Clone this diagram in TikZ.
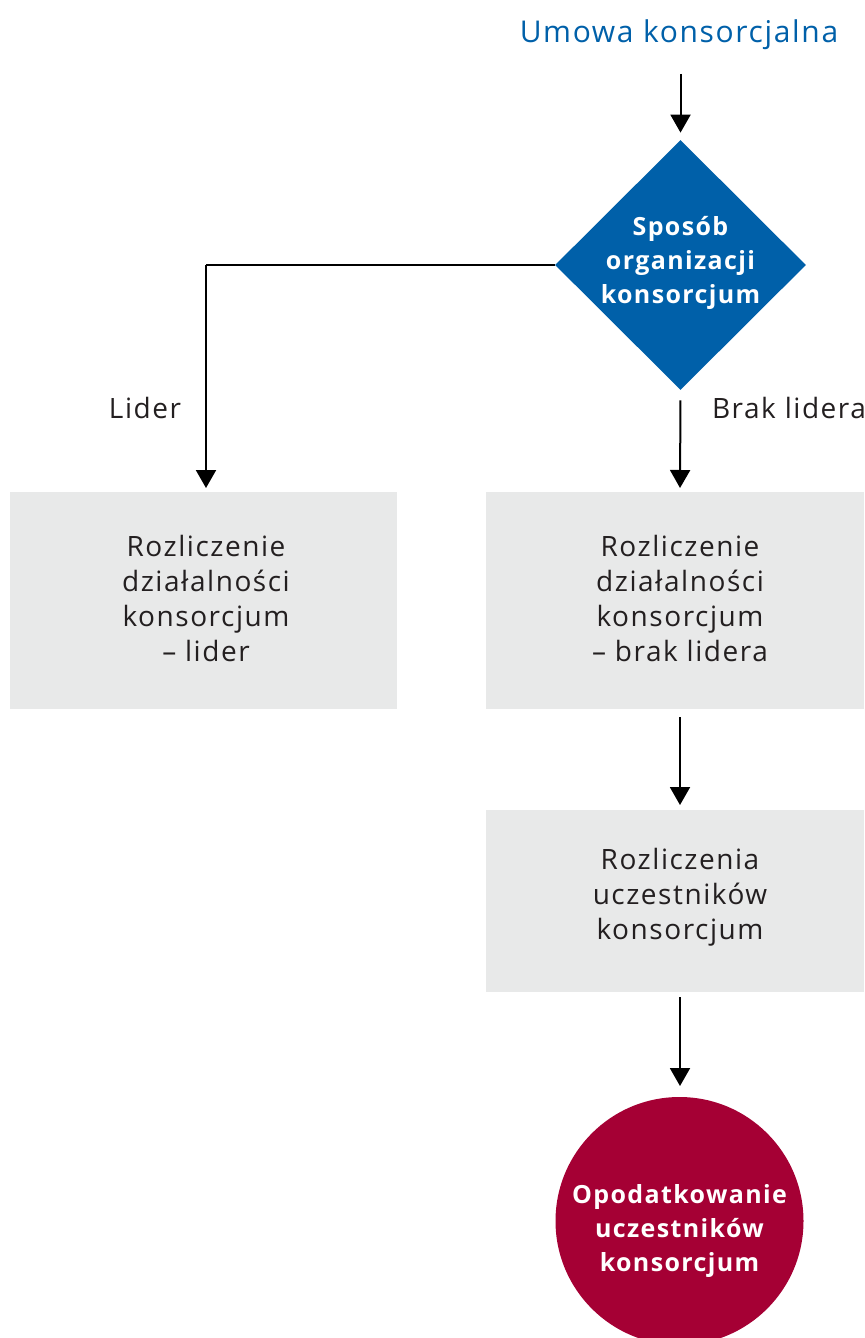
\documentclass[tikz,border=0pt]{standalone}
\usepackage{fontspec}
\setmainfont[LetterSpace=5.5]{Open Sans}
\usetikzlibrary{shapes.geometric,arrows.meta}
\definecolor{cblue}{HTML}{0060A9}
\definecolor{cred}{HTML}{A50034}
\definecolor{cgray}{HTML}{E8E9E9}
\definecolor{ctext}{HTML}{231F20}
\tikzset{
  arr/.style={line width=1pt, draw=black, -{Triangle[width=10pt,length=9pt]}},
  plain/.style={font=\fontsize{14}{17.5}\selectfont, text=ctext, inner sep=0pt},
  boxtext/.style={font=\fontsize{14}{17.5}\selectfont, text=ctext, align=center, inner sep=0pt},
  wtext/.style={font=\bfseries\fontsize{12.5}{16.8}\selectfont, text=white, align=center, inner sep=0pt},
  grey box/.style={rectangle, fill=cgray, draw=none, inner sep=0pt},
  dia/.style={diamond, fill=cblue, draw=none, inner sep=0pt, minimum width=125.5pt, minimum height=125pt},
  endc/.style={circle, fill=cred, draw=none, inner sep=0pt, minimum size=124pt}
}
\begin{document}
\begin{tikzpicture}[x=0.5pt,y=-0.5pt]
\useasboundingbox (0,0) rectangle (864,1338);
\node[plain, text=cblue, font=\fontsize{15}{18}\selectfont] (title) at (679,34.5) {Umowa konsorcjalna};
\node[dia, label={[wtext, yshift=1pt]center:{Sposób\\organizacji\\konsorcjum}}] (dia) at (680.5,265) {};
\node[grey box, minimum width=193.5pt, minimum height=108.5pt,
      label={[boxtext, xshift=1.25pt, yshift=1pt]center:{Rozliczenie\\działalności\\konsorcjum\\– lider}}] (b1) at (203.5,600.5) {};
\node[grey box, minimum width=189pt, minimum height=108.5pt,
      label={[boxtext, xshift=2.5pt, yshift=1pt]center:{Rozliczenie\\działalności\\konsorcjum\\– brak lidera}}] (b2) at (675,600.5) {};
\node[grey box, minimum width=189pt, minimum height=91pt,
      label={[boxtext, xshift=2.5pt, yshift=2pt]center:{Rozliczenia\\uczestników\\konsorcjum}}] (b3) at (675,901) {};
\node[endc, label={[wtext, yshift=-5pt]center:{Opodatkowanie\\uczestników\\konsorcjum}}] (end) at (679.5,1221) {};
\node[plain] (lLider) at (145,408) {Lider};
\node[plain] (lBrak) at (789,408) {Brak lidera};
\coordinate (c1) at (206,492);
\coordinate (c2) at (680,492);
\coordinate (c3) at (680,810);
\coordinate (c4) at (680,1097);
\draw[arr, shorten <=12pt, shorten >=3.5pt] (title.south -| dia.north) -- (dia.north);
\draw[line width=1pt] (dia.west) -- (dia.west -| c1);
\draw[arr, shorten >=2pt] (dia.west -| c1) -- (c1);
\draw[arr, shorten <=5pt, shorten >=2pt] (dia.south) -- (c2);
\draw[arr, shorten <=4pt, shorten >=2.5pt] (b2.south -| c2) -- (c3);
\draw[arr, shorten <=2.5pt, shorten >=5.5pt] (b3.south -| c3) -- (c4);
\end{tikzpicture}
\end{document}
